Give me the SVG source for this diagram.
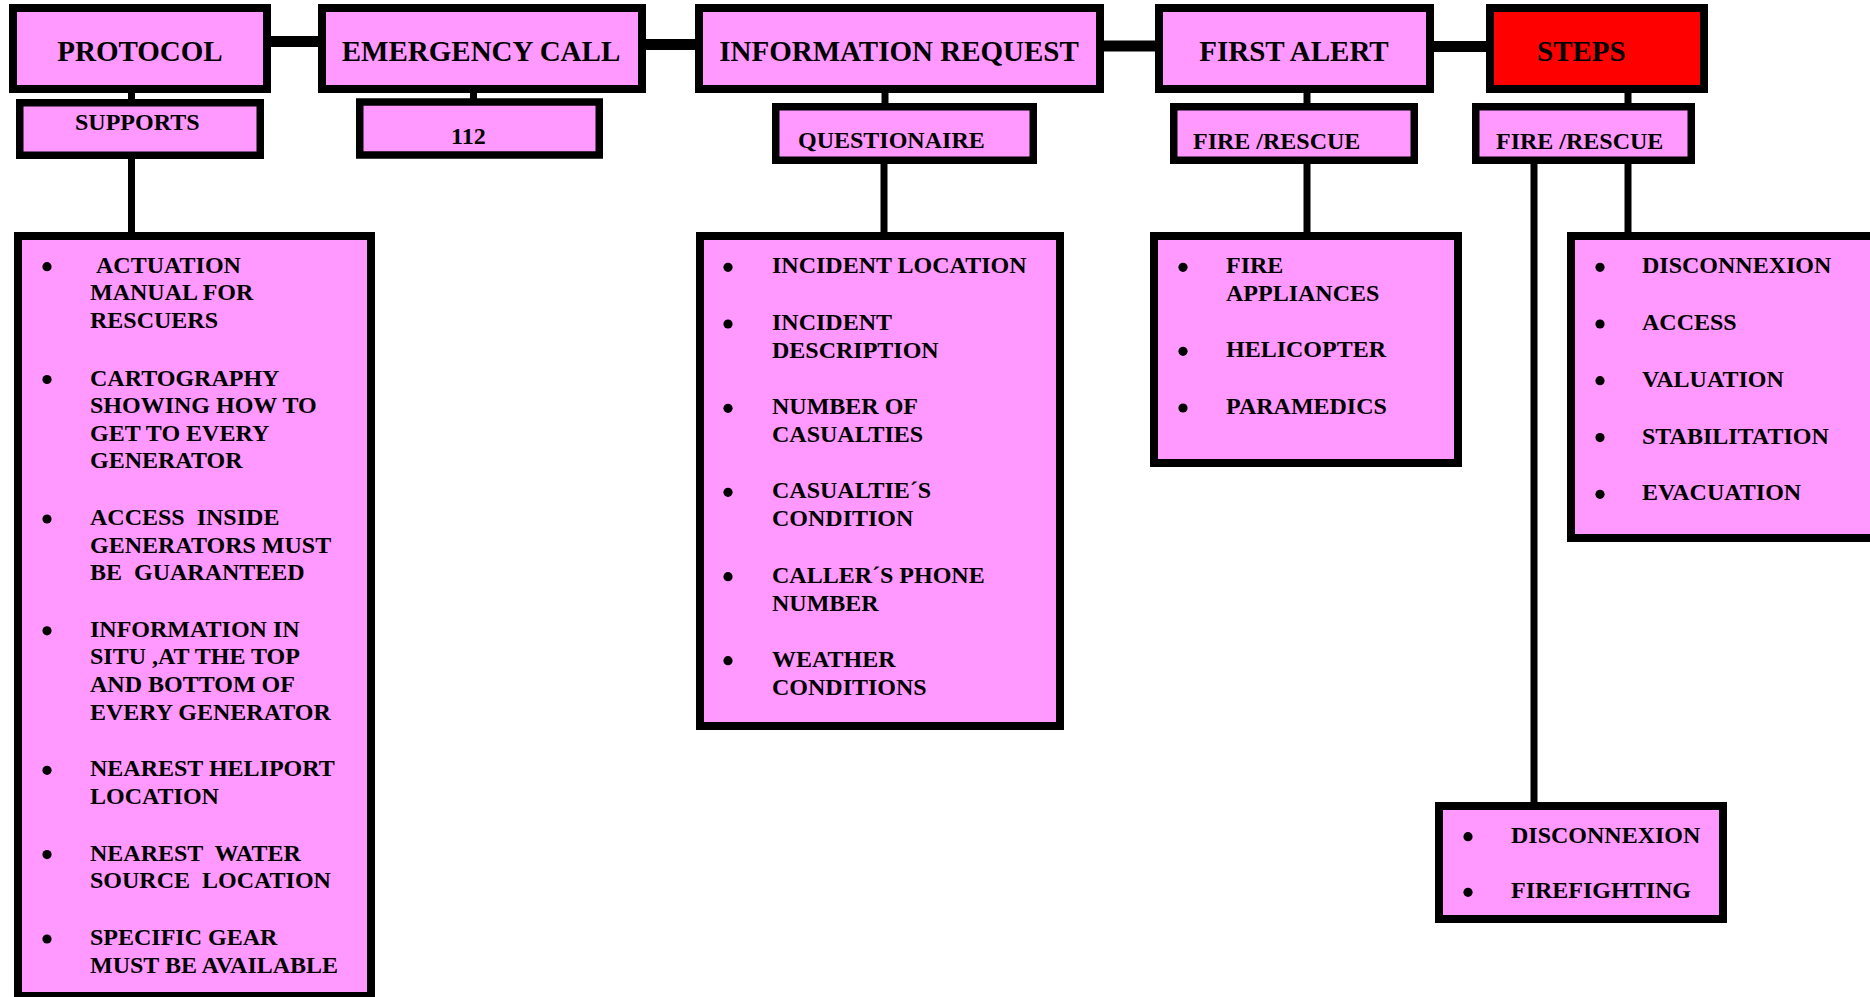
<svg xmlns="http://www.w3.org/2000/svg" width="1870" height="997" viewBox="0 0 1870 997">
  <style>
    .box { fill: #FF99FF; stroke: #000; stroke-width: 8; }
    .sub { fill: #FF99FF; stroke: #000; stroke-width: 7.5; }
    .red { fill: #FF0000; }
    .bar { stroke: #000; stroke-width: 11; fill: none; }
    .link { stroke: #000; stroke-width: 7; fill: none; }
    .dot { fill: #000; }
    text { font-family: "Liberation Serif", "Times New Roman", serif; font-weight: bold; fill: #000; }
    .h1 { font-size: 29px; }
    .h2 { font-size: 24px; }
    .li { font-size: 24px; }
  </style>

  <rect width="1870" height="997" fill="#fff"/>

  <!-- connectors -->
  <g id="connectors">
    <line class="bar" x1="269" y1="41.5" x2="320" y2="41.5"/>
    <line class="bar" x1="644" y1="44.5" x2="697" y2="44.5"/>
    <line class="bar" x1="1102" y1="46" x2="1157" y2="46"/>
    <line class="bar" x1="1432" y1="46.5" x2="1488" y2="46.5"/>

    <line class="link" x1="131.5" y1="91" x2="131.5" y2="101"/>
    <line class="link" x1="131.5" y1="157" x2="131.5" y2="234"/>
    <line class="link" x1="473.5" y1="91" x2="473.5" y2="100"/>
    <line class="link" x1="885" y1="91" x2="885" y2="105"/>
    <line class="link" x1="884" y1="162" x2="884" y2="234"/>
    <line class="link" x1="1307" y1="91" x2="1307" y2="105"/>
    <line class="link" x1="1307" y1="162" x2="1307" y2="234"/>
    <line class="link" x1="1628" y1="91" x2="1628" y2="105"/>
    <line class="link" x1="1628" y1="162" x2="1628" y2="234"/>
    <line class="link" x1="1534" y1="162" x2="1534" y2="804"/>
  </g>

  <!-- top row -->
  <g id="protocol">
    <rect class="box" x="13" y="8" width="254" height="81"/>
    <text class="h1" x="140" y="61" text-anchor="middle">PROTOCOL</text>
  </g>
  <g id="emergency-call">
    <rect class="box" x="322" y="8" width="320" height="81"/>
    <text class="h1" x="481" y="61" text-anchor="middle">EMERGENCY CALL</text>
  </g>
  <g id="information-request">
    <rect class="box" x="699" y="8" width="401" height="81"/>
    <text class="h1" x="899" y="61" text-anchor="middle">INFORMATION REQUEST</text>
  </g>
  <g id="first-alert">
    <rect class="box" x="1159" y="8" width="271" height="81"/>
    <text class="h1" x="1294" y="61" text-anchor="middle">FIRST ALERT</text>
  </g>
  <g id="steps">
    <rect class="box red" x="1490" y="8" width="214" height="81"/>
    <text class="h1" x="1537" y="61">STEPS</text>
  </g>

  <!-- second row -->
  <g id="supports">
    <rect class="sub" x="19.75" y="102.75" width="240.5" height="52.5"/>
    <text class="h2" x="75" y="130">SUPPORTS</text>
  </g>
  <g id="number-112">
    <rect class="sub" x="359.75" y="102" width="239.5" height="53"/>
    <text class="h2" x="451" y="143.5">112</text>
  </g>
  <g id="questionaire">
    <rect class="sub" x="775.75" y="106.75" width="257.5" height="53.5"/>
    <text class="h2" x="798" y="147.5">QUESTIONAIRE</text>
  </g>
  <g id="fire-rescue-alert">
    <rect class="sub" x="1173.75" y="106.75" width="240.5" height="53.5"/>
    <text class="h2" x="1193" y="149">FIRE /RESCUE</text>
  </g>
  <g id="fire-rescue-steps">
    <rect class="sub" x="1475.75" y="106.75" width="215.5" height="53.5"/>
    <text class="h2" x="1496" y="149">FIRE /RESCUE</text>
  </g>

  <!-- support measures list -->
  <g id="supports-list">
    <rect class="box" x="18" y="236" width="353" height="760"/>
    <circle class="dot" cx="47" cy="266.7" r="4.6"/>
    <text class="li" x="96" y="272.7">ACTUATION</text>
    <text class="li" x="90" y="300.3">MANUAL FOR</text>
    <text class="li" x="90" y="327.9">RESCUERS</text>
    <circle class="dot" cx="47" cy="379.5" r="4.6"/>
    <text class="li" x="90" y="385.5">CARTOGRAPHY</text>
    <text class="li" x="90" y="413.1">SHOWING HOW TO</text>
    <text class="li" x="90" y="440.7">GET TO EVERY</text>
    <text class="li" x="90" y="468.3">GENERATOR</text>
    <circle class="dot" cx="47" cy="519" r="4.6"/>
    <text class="li" x="90" y="525" xml:space="preserve">ACCESS  INSIDE</text>
    <text class="li" x="90" y="552.6">GENERATORS MUST</text>
    <text class="li" x="90" y="580.2" xml:space="preserve">BE  GUARANTEED</text>
    <circle class="dot" cx="47" cy="630.8" r="4.6"/>
    <text class="li" x="90" y="636.8">INFORMATION IN</text>
    <text class="li" x="90" y="664.4">SITU ,AT THE TOP</text>
    <text class="li" x="90" y="692">AND BOTTOM OF</text>
    <text class="li" x="90" y="719.6">EVERY GENERATOR</text>
    <circle class="dot" cx="47" cy="770.3" r="4.6"/>
    <text class="li" x="90" y="776.3">NEAREST HELIPORT</text>
    <text class="li" x="90" y="803.9">LOCATION</text>
    <circle class="dot" cx="47" cy="854.6" r="4.6"/>
    <text class="li" x="90" y="860.6" xml:space="preserve">NEAREST  WATER</text>
    <text class="li" x="90" y="888.2" xml:space="preserve">SOURCE  LOCATION</text>
    <circle class="dot" cx="47" cy="939" r="4.6"/>
    <text class="li" x="90" y="945">SPECIFIC GEAR</text>
    <text class="li" x="90" y="972.6">MUST BE AVAILABLE</text>
  </g>

  <!-- questionnaire list -->
  <g id="questionaire-list">
    <rect class="box" x="700" y="236" width="360" height="490"/>
    <circle class="dot" cx="728" cy="267.3" r="4.6"/>
    <text class="li" x="772" y="273.3">INCIDENT LOCATION</text>
    <circle class="dot" cx="728" cy="324" r="4.6"/>
    <text class="li" x="772" y="330">INCIDENT</text>
    <text class="li" x="772" y="357.7">DESCRIPTION</text>
    <circle class="dot" cx="728" cy="408.3" r="4.6"/>
    <text class="li" x="772" y="414.3">NUMBER OF</text>
    <text class="li" x="772" y="441.7">CASUALTIES</text>
    <circle class="dot" cx="728" cy="492.3" r="4.6"/>
    <text class="li" x="772" y="498.3">CASUALTIE´S</text>
    <text class="li" x="772" y="526.2">CONDITION</text>
    <circle class="dot" cx="728" cy="576.7" r="4.6"/>
    <text class="li" x="772" y="582.7">CALLER´S PHONE</text>
    <text class="li" x="772" y="610.5">NUMBER</text>
    <circle class="dot" cx="728" cy="660.7" r="4.6"/>
    <text class="li" x="772" y="666.7">WEATHER</text>
    <text class="li" x="772" y="694.6">CONDITIONS</text>
  </g>

  <!-- first alert resources -->
  <g id="first-alert-list">
    <rect class="box" x="1154" y="236" width="304" height="227"/>
    <circle class="dot" cx="1183" cy="267.3" r="4.6"/>
    <text class="li" x="1226" y="273.3">FIRE</text>
    <text class="li" x="1226" y="300.7">APPLIANCES</text>
    <circle class="dot" cx="1183" cy="351.3" r="4.6"/>
    <text class="li" x="1226" y="357.3">HELICOPTER</text>
    <circle class="dot" cx="1183" cy="408" r="4.6"/>
    <text class="li" x="1226" y="414">PARAMEDICS</text>
  </g>

  <!-- rescue steps -->
  <g id="steps-list">
    <rect class="box" x="1571" y="236" width="400" height="302"/>
    <circle class="dot" cx="1600" cy="267.3" r="4.6"/>
    <text class="li" x="1642" y="273.3">DISCONNEXION</text>
    <circle class="dot" cx="1600" cy="324" r="4.6"/>
    <text class="li" x="1642" y="330">ACCESS</text>
    <circle class="dot" cx="1600" cy="380.7" r="4.6"/>
    <text class="li" x="1642" y="386.7">VALUATION</text>
    <circle class="dot" cx="1600" cy="437.6" r="4.6"/>
    <text class="li" x="1642" y="443.6">STABILITATION</text>
    <circle class="dot" cx="1600" cy="494.3" r="4.6"/>
    <text class="li" x="1642" y="500.3">EVACUATION</text>
  </g>

  <!-- fire steps -->
  <g id="fire-steps-list">
    <rect class="box" x="1439" y="806" width="284" height="113"/>
    <circle class="dot" cx="1468" cy="836.7" r="4.6"/>
    <text class="li" x="1511" y="842.7">DISCONNEXION</text>
    <circle class="dot" cx="1468" cy="892.3" r="4.6"/>
    <text class="li" x="1511" y="898.3">FIREFIGHTING</text>
  </g>
</svg>
